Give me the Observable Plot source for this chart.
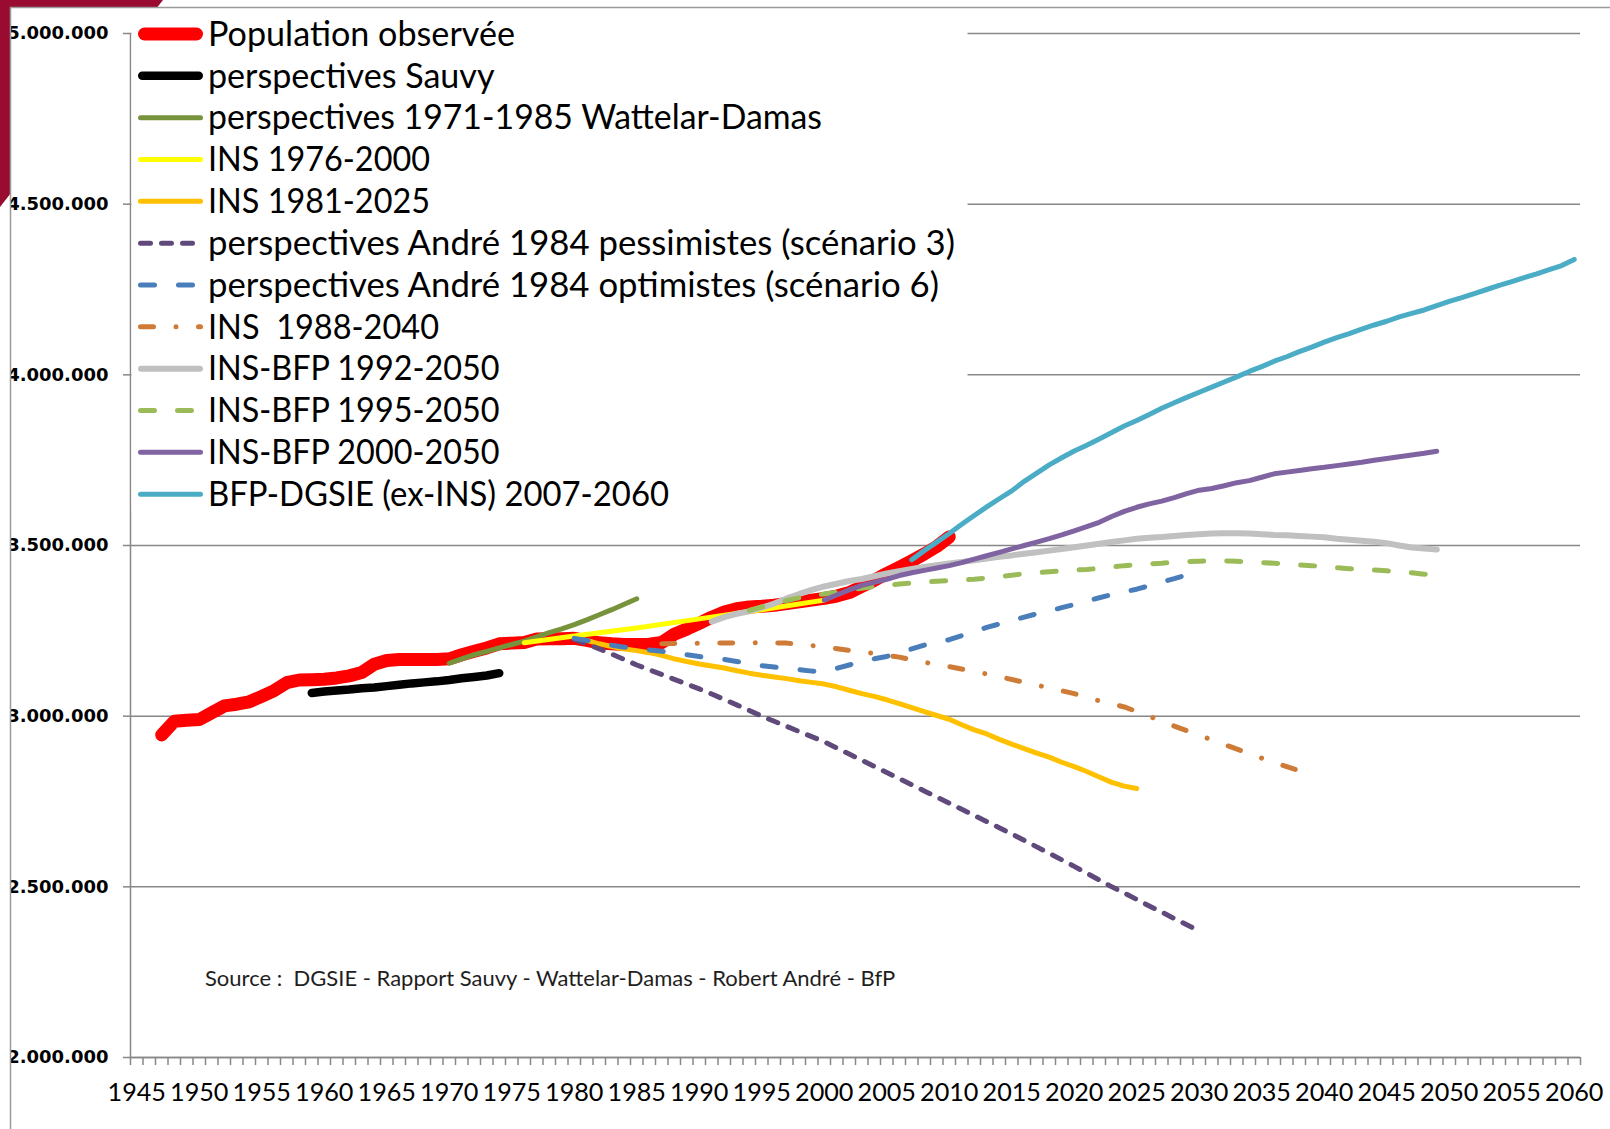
<!DOCTYPE html>
<html><head><meta charset="utf-8">
<script src="https://cdn.jsdelivr.net/npm/d3@7"></script>
<script src="https://cdn.jsdelivr.net/npm/@observablehq/plot@0.6"></script>
<style>
html,body{margin:0;padding:0;background:#fff;}
#page{position:relative;width:1610px;height:1129px;overflow:hidden;background:#fff;}
#page svg{position:absolute;left:0;top:0;}
</style></head>
<body><div id="page"></div>
<script>
// ---------- DATA (values in thousands of inhabitants) ----------
const seriesNames = [
  "Population observée",
  "perspectives Sauvy",
  "perspectives 1971-1985 Wattelar-Damas",
  "INS 1976-2000",
  "INS 1981-2025",
  "perspectives André 1984 pessimistes (scénario 3)",
  "perspectives André 1984 optimistes (scénario 6)",
  "INS  1988-2040",
  "INS-BFP 1992-2050",
  "INS-BFP 1995-2050",
  "INS-BFP 2000-2050",
  "BFP-DGSIE (ex-INS) 2007-2060"
];

const obsYears = d3.range(1947, 2011);
const obsValues = [2945,2985,2988,2990,3010,3030,3035,3042,3058,3075,
  3098,3106,3107,3108,3112,3118,3128,3152,3163,3166,
  3166,3166,3166,3168,3180,3190,3200,3212,3214,3216,
  3226,3227,3227,3228,3222,3215,3212,3210,3210,3211,
  3216,3240,3255,3272,3290,3305,3315,3320,3322,3325,
  3330,3335,3340,3345,3352,3362,3380,3398,3418,3436,
  3455,3475,3497,3525];

const sauvyYears = d3.range(1959, 1975);
const sauvyValues = [3068,3072,3075,3078,3082,3084,3088,3092,3096,3099,3102,3106,3111,3115,3119,3126];

const wattelarYears = d3.range(1970, 1986);
const wattelarValues = [3155,3168,3180,3190,3200,3210,3220,3232,3245,3256,3268,3282,3297,3312,3328,3344];

const ins1976Years = [1976, 1980, 1985, 1990, 1995, 2000];
const ins1976Values = [3215, 3235, 3258, 3285, 3312, 3340];

const ins1981Years = d3.range(1980, 2026);
const ins1981Values = [3227,3222,3212,3204,3197,3192,3186,3178,3168,3160,
  3153,3147,3141,3133,3126,3120,3115,3110,3104,3099,
  3094,3086,3076,3066,3058,3048,3037,3025,3013,3002,
  2991,2975,2960,2948,2932,2918,2905,2892,2880,2865,
  2852,2838,2822,2806,2795,2788];

const pessYears = d3.range(1980, 2031);
const pessValues = [3225,3212,3197,3182,3166,3150,3136,3122,3108,3094,
  3080,3065,3049,3033,3017,3000,2985,2970,2955,2940,
  2925,2907,2889,2871,2853,2835,2817,2799,2781,2763,
  2745,2727,2709,2691,2673,2655,2636,2617,2598,2579,
  2560,2540,2520,2500,2482,2463,2444,2426,2407,2389,2370];

const optYears = d3.range(1980, 2031);
const optValues = [3228,3222,3215,3208,3202,3198,3194,3190,3185,3180,
  3175,3170,3166,3160,3154,3148,3144,3140,3136,3132,
  3130,3140,3150,3160,3168,3175,3186,3197,3208,3216,
  3224,3236,3248,3260,3270,3280,3290,3300,3308,3318,
  3327,3337,3347,3356,3364,3372,3382,3393,3403,3414,3426];

const ins1988Years = [1987,1988,1990,1995,1997,1999,2000,2002,2004,2006,2008,2010,2012,2014,2016,2018,2020,2022,2024,2026,2028,2030,2032,2034,2036,2038,2039];
const ins1988Values = [3212,3213,3214,3215,3214,3207,3203,3193,3184,3173,3158,3145,3131,3116,3099,3083,3066,3045,3027,3000,2971,2944,2917,2890,2864,2840,2826];

const bfp1992Years = d3.range(1991, 2050);
const bfp1992Values = [3277,3290,3300,3307,3318,3330,3345,3358,3370,3380,
  3388,3396,3402,3410,3418,3425,3431,3437,3442,3447,
  3452,3457,3462,3467,3471,3476,3480,3485,3490,3495,
  3500,3505,3510,3515,3520,3523,3525,3528,3531,3533,
  3535,3536,3536,3535,3533,3531,3530,3528,3526,3524,
  3520,3517,3514,3511,3507,3500,3494,3491,3488];

const bfp1995Years = d3.range(1994, 2050);
const bfp1995Values = [3310,3320,3330,3339,3347,3353,3358,3363,3369,3375,
  3380,3384,3387,3390,3393,3395,3397,3399,3401,3405,
  3409,3413,3417,3420,3423,3426,3428,3430,3433,3437,
  3441,3444,3446,3448,3451,3453,3454,3455,3455,3454,
  3452,3450,3448,3446,3443,3441,3438,3435,3432,3430,
  3428,3426,3423,3420,3416,3414];

const bfp2000Years = d3.range(2000, 2050);
const bfp2000Values = [3340,3355,3370,3383,3392,3401,3412,3420,3427,3434,
  3441,3450,3460,3470,3480,3490,3500,3510,3520,3531,
  3543,3555,3568,3585,3600,3612,3622,3630,3640,3652,
  3662,3667,3675,3684,3690,3700,3710,3715,3720,3725,
  3729,3734,3739,3744,3750,3755,3760,3765,3770,3776];

const dgsieYears = d3.range(2007, 2061);
const dgsieValues = [3458,3485,3510,3535,3562,3588,3613,3637,3660,3688,
  3712,3736,3757,3777,3794,3812,3831,3850,3866,3884,
  3902,3918,3934,3949,3964,3979,3994,4010,4024,4040,
  4053,4068,4081,4096,4109,4121,4134,4146,4157,4170,
  4180,4190,4203,4215,4226,4238,4250,4262,4273,4285,
  4296,4308,4320,4338];

const yTicks = [2000000, 2500000, 3000000, 3500000, 4000000, 4500000, 5000000];
const xLabelYears = d3.range(1945, 2061, 5);
const xDomain = [1944.5, 2060.5];
const yDomain = [2000000, 5000000];
const sourceText = "Source :  DGSIE - Rapport Sauvy - Wattelar-Damas - Robert André - BfP";

// ---------- STYLES ----------
const styles = [
  {stroke: "#ff0000", width: 13, dash: null, textLen: 307},
  {stroke: "#000000", width: 8.5, dash: null, textLen: 286.5},
  {stroke: "#77933c", width: 5, dash: null, textLen: 614},
  {stroke: "#ffff00", width: 5, dash: null, textLen: 222},
  {stroke: "#ffc000", width: 5, dash: null, textLen: 222},
  {stroke: "#604a7b", width: 5, dash: "10,11", textLen: 747},
  {stroke: "#4a7ebb", width: 5, dash: "14,24", textLen: 731},
  {stroke: "#cd7b36", width: 5, dash: "13,22.5,0.001,22.5", textLen: 231},
  {stroke: "#c0c0c0", width: 6, dash: null, textLen: 291.5},
  {stroke: "#9bbb59", width: 5, dash: "14,23", textLen: 291.5},
  {stroke: "#8064a2", width: 5, dash: null, textLen: 291.5},
  {stroke: "#4bacc6", width: 5, dash: null, textLen: 461}
];

const yearsList = [obsYears, sauvyYears, wattelarYears, ins1976Years, ins1981Years, pessYears, optYears, ins1988Years, bfp1992Years, bfp1995Years, bfp2000Years, dgsieYears];
const valuesList = [obsValues, sauvyValues, wattelarValues, ins1976Values, ins1981Values, pessValues, optValues, ins1988Values, bfp1992Values, bfp1995Values, bfp2000Values, dgsieValues];

const tables = seriesNames.map((name, i) =>
  yearsList[i].map((yr, j) => ({series: name, year: yr, value: valuesList[i][j] * 1000})));

const fmt = d3.formatLocale({decimal: ",", thousands: ".", grouping: [3], currency: ["", "€"]}).format(",d");
const gridColor = "#878787";
const mainFont = "Lato, 'Open Sans', sans-serif";

const lineMarks = tables.map((t, i) => Plot.line(t, {
  x: "year", y: "value",
  stroke: styles[i].stroke,
  strokeWidth: styles[i].width,
  strokeDasharray: styles[i].dash || undefined,
  strokeLinecap: "round",
  strokeLinejoin: "round"
}));

const chart = Plot.plot({
  width: 1610, height: 1129,
  marginLeft: 130, marginRight: 30, marginTop: 33, marginBottom: 72,
  style: {background: "transparent", fontFamily: mainFont, color: "#000"},
  x: {domain: xDomain, axis: null},
  y: {domain: yDomain, axis: null},
  marks: [
    Plot.gridY(yTicks, {stroke: gridColor, strokeOpacity: 1, strokeWidth: 1.5}),
    Plot.ruleX([xDomain[0]], {stroke: gridColor, strokeWidth: 1.5}),
    Plot.ruleY([yDomain[0]], {stroke: gridColor, strokeWidth: 1.5}),
    Plot.axisY(yTicks, {
      tickSize: 7, tickPadding: 15, tickFormat: fmt, label: null,
      stroke: gridColor, strokeWidth: 1.5, fill: "#000",
      fontFamily: "DejaVu Sans", fontWeight: "bold", fontSize: 18
    }),
    Plot.axisX(d3.range(xDomain[0], xDomain[1] + 0.01, 1), {
      tickSize: 8, text: null, label: null, stroke: gridColor, strokeWidth: 1.5
    }),
    Plot.axisX(xLabelYears, {
      tickSize: 0, tickPadding: 26, tickFormat: d3.format("d"), label: null,
      fill: "#000", fontFamily: mainFont, fontSize: 25.2
    }),
    ...lineMarks
  ]
});
document.getElementById("page").appendChild(chart);

// ---------- OVERLAY: legend, source, frame decoration ----------
const ov = d3.select("#page").append("svg")
  .attr("width", 1610).attr("height", 1129)
  .style("pointer-events", "none");

// source caption
ov.append("text")
  .attr("x", 205).attr("y", 986)
  .attr("font-family", mainFont).attr("font-size", 22)
  .attr("fill", "#1e1e1e")
  .attr("xml:space", "preserve").style("white-space", "pre")
  .text(sourceText);

// legend
const lg = ov.append("g");
lg.append("rect").attr("x", 131.5).attr("y", 8).attr("width", 836).attr("height", 503).attr("fill", "#fff");
seriesNames.forEach((name, i) => {
  const cy = 34 + i * 41.83;
  const s = styles[i];
  const cap = s.width / 2;
  lg.append("line")
    .attr("x1", 138 + cap).attr("x2", 203 - cap)
    .attr("y1", cy).attr("y2", cy)
    .attr("stroke", s.stroke).attr("stroke-width", s.width)
    .attr("stroke-linecap", "round")
    .attr("stroke-dasharray", s.dash);
  lg.append("text")
    .attr("x", 208).attr("y", cy + 11.8)
    .attr("font-family", mainFont).attr("font-size", 34.5)
    .attr("fill", "#000")
    .attr("textLength", s.textLen).attr("lengthAdjust", "spacingAndGlyphs")
    .attr("xml:space", "preserve").style("white-space", "pre")
    .text(name);
});

// outside-of-chart-area background and decoration
ov.append("rect").attr("x", 0).attr("y", 0).attr("width", 10).attr("height", 1129).attr("fill", "#fff");
ov.append("rect").attr("x", 0).attr("y", 0).attr("width", 1610).attr("height", 7).attr("fill", "#fff");
ov.append("polygon")
  .attr("points", "0,0 163,0 157.5,7 10,7 10,194.3 0,207")
  .attr("fill", "#9a0b32");
ov.append("path")
  .attr("d", "M10.5,1129 V7.5 H1610")
  .attr("fill", "none").attr("stroke", "#9a9a9a").attr("stroke-width", 1.5);
</script>
</body></html>
